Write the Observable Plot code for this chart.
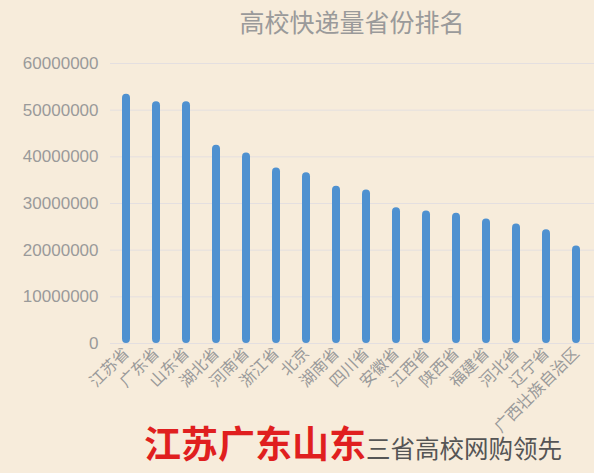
<!DOCTYPE html>
<html>
<head>
<meta charset="utf-8">
<script src="https://cdn.jsdelivr.net/npm/d3@7"></script>
<script src="https://cdn.jsdelivr.net/npm/@observablehq/plot@0.6"></script>
<style>
  html, body { margin: 0; padding: 0; background: #f7ecdb; }
  #wrap { position: relative; width: 594px; height: 473px; overflow: hidden; background: #f7ecdb;
          font-family: "Liberation Sans", "Noto Sans CJK SC", sans-serif; }
  #title { position: absolute; left: 0; width: 704px; top: 3px; text-align: center;
           font-family: "Noto Sans CJK SC", sans-serif; font-size: 25px; color: #9a9a9a; line-height: 36px; }
  #caption { position: absolute; left: 144px; top: 417px; white-space: nowrap;
             font-family: "Noto Sans CJK SC", sans-serif; line-height: 50px; }
  #caption .red { color: #e01f1f; font-size: 37px; font-weight: bold; }
  #caption .gray { color: #555; font-size: 24.5px; }
  #chart { position: absolute; left: 0; top: 0; }
</style>
</head>
<body>
<div id="wrap">
  <div id="chart"></div>
  <div id="title">高校快递量省份排名</div>
  <div id="caption"><span class="red">江苏广东山东</span><span class="gray">三省高校网购领先</span></div>
</div>
<script>
const provinces = ["江苏省","广东省","山东省","湖北省","河南省","浙江省","北京","湖南省","四川省","安徽省","江西省","陕西省","福建省","河北省","辽宁省","广西壮族自治区"];
const volumes = [53400000,51800000,51800000,42500000,40800000,37600000,36600000,33700000,32900000,29100000,28400000,27900000,26700000,25600000,24400000,20900000];
const yTicks = [0,10000000,20000000,30000000,40000000,50000000,60000000];

const data = provinces.map((p, i) => ({province: p, value: volumes[i]}));

const chart = Plot.plot({
  width: 594,
  height: 473,
  marginTop: 63,
  marginBottom: 130,
  marginLeft: 110,
  marginRight: 0,
  style: {background: "transparent", fontFamily: "'Liberation Sans','Noto Sans CJK SC',sans-serif"},
  x: {domain: provinces, range: [108.2, 593.5], padding: 0, label: null},
  y: {domain: [0, 60000000], ticks: yTicks, label: null},
  marks: [
    Plot.gridY(yTicks, {stroke: "#e4dfe0", strokeOpacity: 1, strokeWidth: 1}),
    Plot.axisY({ticks: yTicks, tickSize: 0, tickPadding: 12, fontSize: 17, fill: "#9a9a9a",
                tickFormat: d => String(d), label: null}),
    Plot.axisX({tickSize: 0, tickPadding: 7, tickRotate: -45, fontSize: 16, fill: "#9a9a9a", label: null,
                fontFamily: "'Noto Sans CJK SC',sans-serif"}),
    Plot.barY(data, {x: "province", y: "value", fill: "#4f91d0", insetLeft: 11, insetRight: 11, rx: 4.2})
  ]
});
document.getElementById("chart").appendChild(chart);
</script>
</body>
</html>
